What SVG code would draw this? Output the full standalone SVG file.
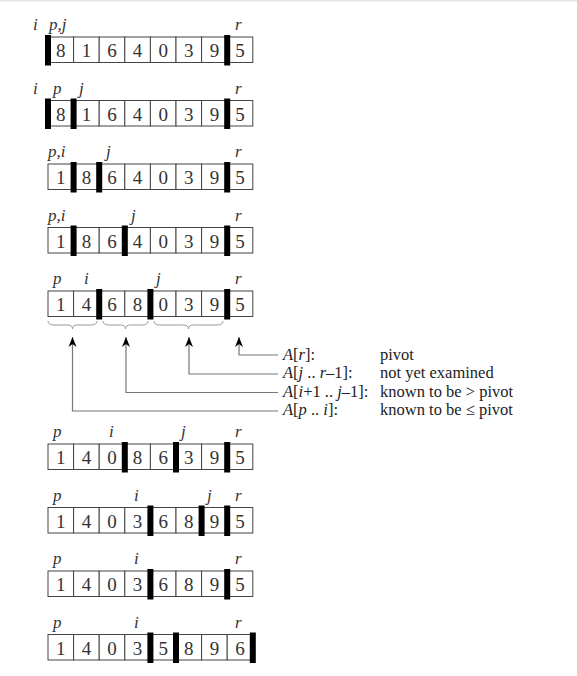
<svg xmlns="http://www.w3.org/2000/svg" width="577" height="676" viewBox="0 0 577 676">
<style>
.cell{fill:#fff;stroke:#444;stroke-width:1}
.d{font-family:'Liberation Serif','Times New Roman','DejaVu Serif',serif;font-size:19px;fill:#333;text-anchor:middle}
.lb{font-family:'Liberation Serif','Times New Roman','DejaVu Serif',serif;font-size:17px;font-style:italic;fill:#333}
.bar{fill:#000}
.br{fill:none;stroke:#999;stroke-width:1}
.ln{fill:none;stroke:#777;stroke-width:1.2}
.t{font-family:'Liberation Serif','Times New Roman','DejaVu Serif',serif;font-size:16.5px;fill:#222}
.it{font-style:italic}
</style>
<defs>
<marker id="ah" markerUnits="userSpaceOnUse" markerWidth="12" markerHeight="10" viewBox="-11 -5 12 10" refX="0" refY="0" orient="auto">
<path d="M0,0 L-10,-4 L-7,0 L-10,4 Z" fill="#000"/>
</marker>
<g id="cells">
<rect class="cell" x="48" y="0" width="25.6" height="25.5"/>
<rect class="cell" x="73.6" y="0" width="25.6" height="25.5"/>
<rect class="cell" x="99.2" y="0" width="25.6" height="25.5"/>
<rect class="cell" x="124.8" y="0" width="25.6" height="25.5"/>
<rect class="cell" x="150.4" y="0" width="25.6" height="25.5"/>
<rect class="cell" x="176" y="0" width="25.6" height="25.5"/>
<rect class="cell" x="201.6" y="0" width="25.6" height="25.5"/>
<rect class="cell" x="227.2" y="0" width="25.6" height="25.5"/>
</g>
</defs>
<rect x="0" y="0" width="577" height="1.5" fill="#e4e4e4"/>

<g id="row1" transform="translate(0,37)">
<use href="#cells"/>
<g class="d"><text x="60.8" y="20">8</text><text x="86.4" y="20">1</text><text x="112" y="20">6</text><text x="137.6" y="20">4</text><text x="163.2" y="20">0</text><text x="188.8" y="20">3</text><text x="214.4" y="20">9</text><text x="240" y="20">5</text></g>
<rect class="bar" x="45" y="-2" width="6" height="30.5"/><rect class="bar" x="224.2" y="-2" width="6" height="30.5"/>
<g class="lb"><text x="33" y="-7">i</text><text x="49" y="-7">p,j</text><text x="235" y="-7">r</text></g>
</g>

<g id="row2" transform="translate(0,100.5)">
<use href="#cells"/>
<g class="d"><text x="60.8" y="20">8</text><text x="86.4" y="20">1</text><text x="112" y="20">6</text><text x="137.6" y="20">4</text><text x="163.2" y="20">0</text><text x="188.8" y="20">3</text><text x="214.4" y="20">9</text><text x="240" y="20">5</text></g>
<rect class="bar" x="45" y="-2" width="6" height="30.5"/><rect class="bar" x="70.6" y="-2" width="6" height="30.5"/><rect class="bar" x="224.2" y="-2" width="6" height="30.5"/>
<g class="lb"><text x="33" y="-7">i</text><text x="53" y="-7">p</text><text x="79" y="-7">j</text><text x="235" y="-7">r</text></g>
</g>

<g id="row3" transform="translate(0,164)">
<use href="#cells"/>
<g class="d"><text x="60.8" y="20">1</text><text x="86.4" y="20">8</text><text x="112" y="20">6</text><text x="137.6" y="20">4</text><text x="163.2" y="20">0</text><text x="188.8" y="20">3</text><text x="214.4" y="20">9</text><text x="240" y="20">5</text></g>
<rect class="bar" x="70.6" y="-2" width="6" height="30.5"/><rect class="bar" x="96.2" y="-2" width="6" height="30.5"/><rect class="bar" x="224.2" y="-2" width="6" height="30.5"/>
<g class="lb"><text x="48" y="-7">p,i</text><text x="106" y="-7">j</text><text x="235" y="-7">r</text></g>
</g>

<g id="row4" transform="translate(0,227.5)">
<use href="#cells"/>
<g class="d"><text x="60.8" y="20">1</text><text x="86.4" y="20">8</text><text x="112" y="20">6</text><text x="137.6" y="20">4</text><text x="163.2" y="20">0</text><text x="188.8" y="20">3</text><text x="214.4" y="20">9</text><text x="240" y="20">5</text></g>
<rect class="bar" x="70.6" y="-2" width="6" height="30.5"/><rect class="bar" x="121.8" y="-2" width="6" height="30.5"/><rect class="bar" x="224.2" y="-2" width="6" height="30.5"/>
<g class="lb"><text x="48" y="-7">p,i</text><text x="131" y="-7">j</text><text x="235" y="-7">r</text></g>
</g>

<g id="row5" transform="translate(0,291)">
<use href="#cells"/>
<g class="d"><text x="60.8" y="20">1</text><text x="86.4" y="20">4</text><text x="112" y="20">6</text><text x="137.6" y="20">8</text><text x="163.2" y="20">0</text><text x="188.8" y="20">3</text><text x="214.4" y="20">9</text><text x="240" y="20">5</text></g>
<rect class="bar" x="96.2" y="-2" width="6" height="30.5"/><rect class="bar" x="147.4" y="-2" width="6" height="30.5"/><rect class="bar" x="224.2" y="-2" width="6" height="30.5"/>
<g class="lb"><text x="53" y="-7">p</text><text x="84" y="-7">i</text><text x="156" y="-7">j</text><text x="235" y="-7">r</text></g>
</g>

<g id="braces">
<path class="br" d="M48,321 Q48,325 54,325 L67.5,325 Q72.5,325 72.5,329 Q72.5,325 77.5,325 L91,325 Q97,325 97,321"/>
<path class="br" d="M103,321 Q103,325 109,325 L120.5,325 Q125.5,325 125.5,329 Q125.5,325 130.5,325 L142,325 Q148,325 148,321"/>
<path class="br" d="M154,321 Q154,325 160,325 L183.5,325 Q188.5,325 188.5,329 Q188.5,325 193.5,325 L217,325 Q223,325 223,321"/>
</g>

<g id="connectors">
<path class="ln" d="M278,355 H239 V337" marker-end="url(#ah)"/>
<path class="ln" d="M278,374 H189 V337" marker-end="url(#ah)"/>
<path class="ln" d="M278,392.5 H126 V337" marker-end="url(#ah)"/>
<path class="ln" d="M278,411 H72.5 V337" marker-end="url(#ah)"/>
</g>

<g id="legend" class="t">
<text x="283" y="359.5"><tspan class="it">A</tspan>[<tspan class="it">r</tspan>]:</text>
<text x="380" y="359.5">pivot</text>
<text x="283" y="378"><tspan class="it">A</tspan>[<tspan class="it">j</tspan> .. <tspan class="it">r</tspan>–1]:</text>
<text x="380" y="378">not yet examined</text>
<text x="283" y="396.5"><tspan class="it">A</tspan>[<tspan class="it">i</tspan>+1 .. <tspan class="it">j</tspan>–1]:</text>
<text x="380" y="396.5">known to be &gt; pivot</text>
<text x="283" y="415"><tspan class="it">A</tspan>[<tspan class="it">p</tspan> .. <tspan class="it">i</tspan>]:</text>
<text x="380" y="415">known to be ≤ pivot</text>
</g>

<g id="row6" transform="translate(0,444)">
<use href="#cells"/>
<g class="d"><text x="60.8" y="20">1</text><text x="86.4" y="20">4</text><text x="112" y="20">0</text><text x="137.6" y="20">8</text><text x="163.2" y="20">6</text><text x="188.8" y="20">3</text><text x="214.4" y="20">9</text><text x="240" y="20">5</text></g>
<rect class="bar" x="121.8" y="-2" width="6" height="30.5"/><rect class="bar" x="173" y="-2" width="6" height="30.5"/><rect class="bar" x="224.2" y="-2" width="6" height="30.5"/>
<g class="lb"><text x="53" y="-7">p</text><text x="109" y="-7">i</text><text x="181" y="-7">j</text><text x="235" y="-7">r</text></g>
</g>

<g id="row7" transform="translate(0,507.5)">
<use href="#cells"/>
<g class="d"><text x="60.8" y="20">1</text><text x="86.4" y="20">4</text><text x="112" y="20">0</text><text x="137.6" y="20">3</text><text x="163.2" y="20">6</text><text x="188.8" y="20">8</text><text x="214.4" y="20">9</text><text x="240" y="20">5</text></g>
<rect class="bar" x="147.4" y="-2" width="6" height="30.5"/><rect class="bar" x="198.6" y="-2" width="6" height="30.5"/><rect class="bar" x="224.2" y="-2" width="6" height="30.5"/>
<g class="lb"><text x="53" y="-7">p</text><text x="134" y="-7">i</text><text x="207" y="-7">j</text><text x="235" y="-7">r</text></g>
</g>

<g id="row8" transform="translate(0,571)">
<use href="#cells"/>
<g class="d"><text x="60.8" y="20">1</text><text x="86.4" y="20">4</text><text x="112" y="20">0</text><text x="137.6" y="20">3</text><text x="163.2" y="20">6</text><text x="188.8" y="20">8</text><text x="214.4" y="20">9</text><text x="240" y="20">5</text></g>
<rect class="bar" x="147.4" y="-2" width="6" height="30.5"/><rect class="bar" x="224.2" y="-2" width="6" height="30.5"/>
<g class="lb"><text x="53" y="-7">p</text><text x="134" y="-7">i</text><text x="235" y="-7">r</text></g>
</g>

<g id="row9" transform="translate(0,634.5)">
<use href="#cells"/>
<g class="d"><text x="60.8" y="20">1</text><text x="86.4" y="20">4</text><text x="112" y="20">0</text><text x="137.6" y="20">3</text><text x="163.2" y="20">5</text><text x="188.8" y="20">8</text><text x="214.4" y="20">9</text><text x="240" y="20">6</text></g>
<rect class="bar" x="147.4" y="-2" width="6" height="30.5"/><rect class="bar" x="173" y="-2" width="6" height="30.5"/><rect class="bar" x="249.8" y="-2" width="6" height="30.5"/>
<g class="lb"><text x="53" y="-7">p</text><text x="134" y="-7">i</text><text x="235" y="-7">r</text></g>
</g>
</svg>
